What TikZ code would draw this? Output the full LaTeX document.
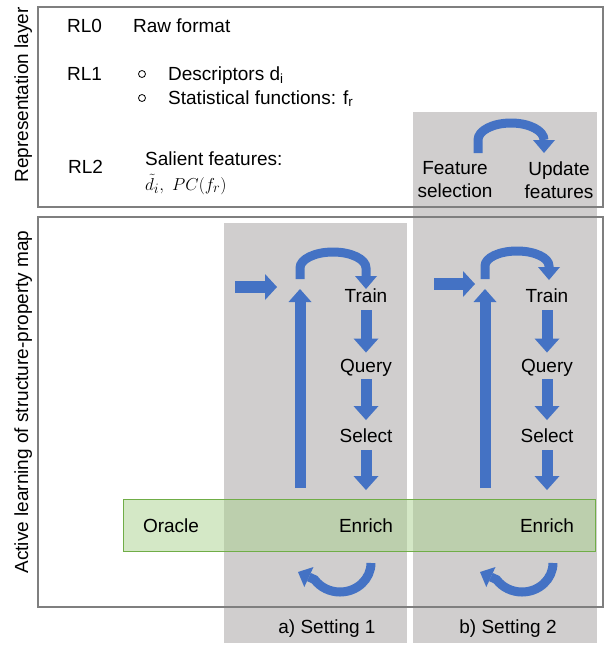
\documentclass[tikz,border=0pt]{standalone}
\usepackage{fontspec}
\setmainfont{Liberation Sans}
\usetikzlibrary{arrows.meta}
\definecolor{arrowblue}{HTML}{4472C4}
\definecolor{panelgray}{HTML}{D0CECE}
\definecolor{boxgray}{HTML}{7F7F7F}
\definecolor{bandfill}{HTML}{A9D18E}
\definecolor{bandline}{HTML}{70AD47}
\begin{document}
\begin{tikzpicture}[x=1pt,y=-1pt,
  every node/.style={font=\fontsize{19}{23}\selectfont, inner sep=0pt},
  panel/.style={fill=panelgray, draw=none},
  frame/.style={draw=boxgray, line width=1.5pt},
  band/.style={fill=bandfill, fill opacity=0.5, draw=bandline, line width=1pt, minimum width=472pt, minimum height=52pt},
  blk/.style={draw=arrowblue, line width=11pt, -{Triangle[length=14pt,width=25pt,line width=0pt]}},
  rblk/.style={draw=arrowblue, line width=12pt, -{Triangle[length=12pt,width=26pt,line width=0pt]}},
  ublk/.style={draw=arrowblue, line width=11pt, -{Triangle[length=13pt,width=23pt,line width=0pt]}},
  curv/.style={draw=arrowblue, line width=9pt, -{Triangle[length=13pt,width=22pt,line width=0pt]}},
  curvb/.style={draw=arrowblue, line width=9pt, -{Triangle[length=12pt,width=22pt,line width=0pt]}},
  bulletmark/.style={circle, draw=black, line width=0.8pt, minimum size=7pt, inner sep=0pt}
]
\useasboundingbox (0,0) rectangle (605,646);

% grey setting panels
\fill[panel] (224,223) rectangle (407,643);
\fill[panel] (413,112) rectangle (597,643);

% oracle band
\node[band] (bandbox) at (359,525) {};

% frames
\draw[frame] (38,7) rectangle (603,207);
\draw[frame] (38,217) rectangle (603,607);

% side labels
\node[rotate=90, anchor=base] (replab) at (28,95) {Representation layer};
\node[rotate=90, anchor=base] (allab) at (28,402) {Active learning of structure-property map};

% representation layer texts
\node[anchor=base west] (rl0) at (67,32) {RL0};
\node[anchor=base west] (raw) at (133,32) {Raw format};
\node[anchor=base west] (rl1) at (67,80) {RL1};
\node[bulletmark] (b1) at (142,74) {};
\node[bulletmark] (b2) at (142,98) {};
\node[anchor=base west] (desc) at (168,80) {Descriptors d\textsubscript{i}};
\node[anchor=base west] (stat) at (168,104) {Statistical functions: f\textsubscript{r}};
\node[anchor=base west] (rl2) at (68,173) {RL2};
\node[anchor=base west] (sal) at (145,165) {Salient features:};
\node[anchor=base west] (salm) at (145,190) {$\tilde{d}_i,\ PC(f_r)$};

\node[align=center] (fsel) at (455,180) {Feature\\selection};
\node[align=center] (fupd) at (559,180) {Update\\features};
\draw[curv] (478,153) -- (478,140) arc[start angle=180, end angle=360, x radius=33, y radius=17] -- (544,153);

% setting 1
\node[anchor=base] (train1) at (366,302) {Train};
\node[anchor=base] (query1) at (366,372) {Query};
\node[anchor=base] (select1) at (366,442) {Select};
\node[anchor=base] (enrich1) at (366,532) {Enrich};
\node[anchor=base] (oracle) at (171,532) {Oracle};
\node[anchor=base] (set1) at (327,633) {a) Setting 1};

\coordinate (in1s) at (235,287);
\coordinate (in1e) at (277,287);
\draw[rblk] (in1s) -- (in1e);
\coordinate (up1s) at (300,488);
\coordinate (up1e) at (300,289);
\draw[ublk] (up1s) -- (up1e);
\draw[curv] (300,279) -- (300,268) arc[start angle=180, end angle=360, x radius=33, y radius=16] -- (366,289);
\draw[blk, shorten <=8pt, shorten >=6pt] (train1.south) -- (query1.north);
\draw[blk, shorten <=3pt, shorten >=8pt] (query1.south) -- (select1.north);
\draw[blk, shorten <=8pt, shorten >=28pt] (select1.south) -- (enrich1.north);
\draw[curvb] (371,563) arc[start angle=0, end angle=145, x radius=31, y radius=29] -- (298,572);

% setting 2
\node[anchor=base] (train2) at (547,302) {Train};
\node[anchor=base] (query2) at (547,372) {Query};
\node[anchor=base] (select2) at (547,442) {Select};
\node[anchor=base] (enrich2) at (547,532) {Enrich};
\node[anchor=base] (set2) at (508,633) {b) Setting 2};

\coordinate (in2s) at (434,284);
\coordinate (in2e) at (475,284);
\draw[rblk] (in2s) -- (in2e);
\coordinate (up2s) at (485,488);
\coordinate (up2e) at (485,289);
\draw[ublk] (up2s) -- (up2e);
\draw[curv] (485,279) -- (485,266) arc[start angle=180, end angle=360, x radius=32, y radius=15] -- (549,280);
\draw[blk, shorten <=8pt, shorten >=6pt] (train2.south) -- (query2.north);
\draw[blk, shorten <=3pt, shorten >=8pt] (query2.south) -- (select2.north);
\draw[blk, shorten <=8pt, shorten >=28pt] (select2.south) -- (enrich2.north);
\draw[curvb] (553,563) arc[start angle=0, end angle=145, x radius=31, y radius=29] -- (480,572);
\end{tikzpicture}
\end{document}
